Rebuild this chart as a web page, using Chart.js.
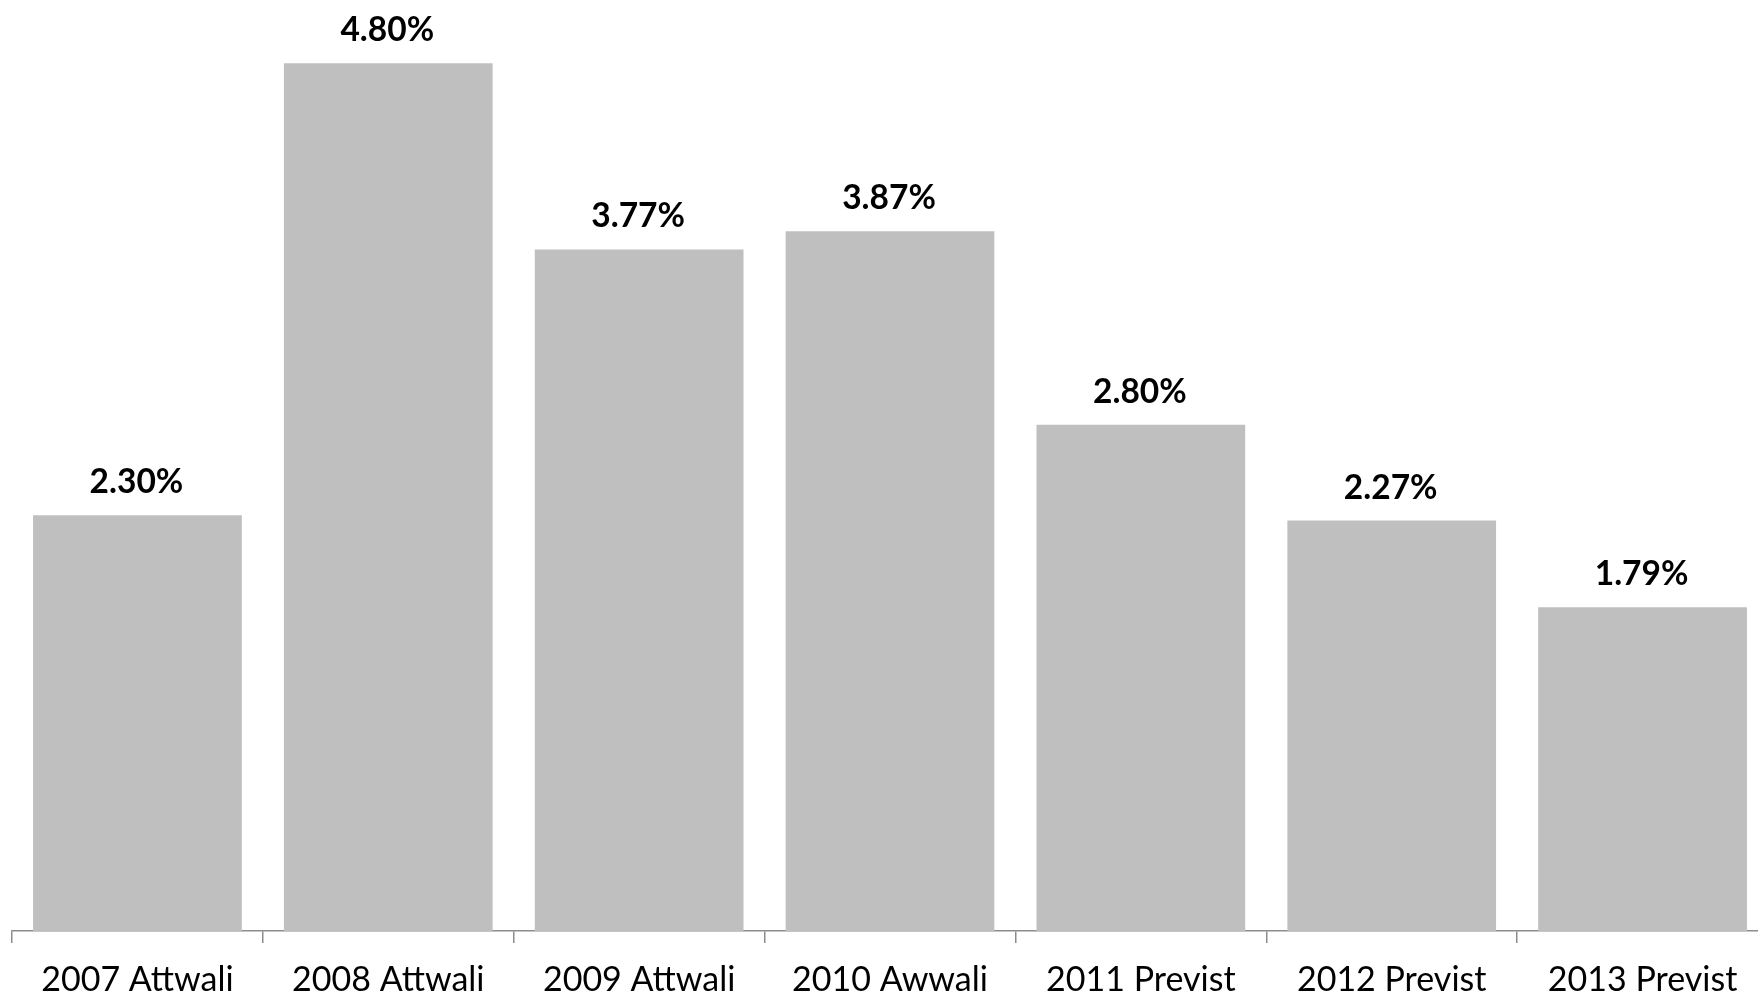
<!DOCTYPE html>
<html>
<head>
<meta charset="utf-8">
<script src="https://cdn.jsdelivr.net/npm/chart.js@4"></script>
<style>
  html, body { margin: 0; padding: 0; background: #fff; overflow: hidden; }
  #wrap { width: 1768px; height: 996px; }
</style>
</head>
<body>
<div id="wrap"><canvas id="growthChart" width="1768" height="996"></canvas></div>
<script>
const categories = ['2007 Attwali', '2008 Attwali', '2009 Attwali', '2010 Awwali', '2011 Previst', '2012 Previst', '2013 Previst'];
const growthValues = [2.30, 4.80, 3.77, 3.87, 2.80, 2.27, 1.79];

// draws the bold percentage above each bar
const valueLabels = {
    id: 'valueLabels',
    afterDatasetsDraw(chart) {
        const ctx = chart.ctx;
        const meta = chart.getDatasetMeta(0);
        ctx.save();
        ctx.font = 'bold 33.5px Lato';
        ctx.fillStyle = '#000';
        ctx.textAlign = 'center';
        ctx.textBaseline = 'alphabetic';
        meta.data.forEach(function (bar, i) {
            ctx.fillText(growthValues[i].toFixed(2) + '%', bar.x - 1, bar.y - 22);
        });
        ctx.restore();
    }
};

const growthChart = new Chart(document.getElementById('growthChart'), {
    type: 'bar',
    data: {
        labels: categories,
        datasets: [{
            data: growthValues,
            backgroundColor: '#bfbfbf',
            barPercentage: 0.832,
            categoryPercentage: 1
        }]
    },
    options: {
        responsive: false,
        animation: false,
        layout: { padding: { top: 27, left: 12, right: 0, bottom: 0 } },
        plugins: {
            legend: { display: false },
            tooltip: { enabled: false }
        },
        scales: {
            x: {
                grid: {
                    offset: true,
                    drawOnChartArea: false,
                    drawTicks: true,
                    tickLength: 12,
                    color: '#8c8c8c',
                    lineWidth: 1.5
                },
                border: { display: true, color: '#8c8c8c', width: 1.5 },
                ticks: {
                    color: '#000',
                    font: { family: 'Lato', size: 34 },
                    padding: 17,
                    maxRotation: 0,
                    autoSkip: false
                },
                afterFit(scale) { scale.height = 65; }
            },
            y: {
                display: false,
                min: 0,
                max: 5
            }
        }
    },
    plugins: [valueLabels]
});
</script>
</body>
</html>
